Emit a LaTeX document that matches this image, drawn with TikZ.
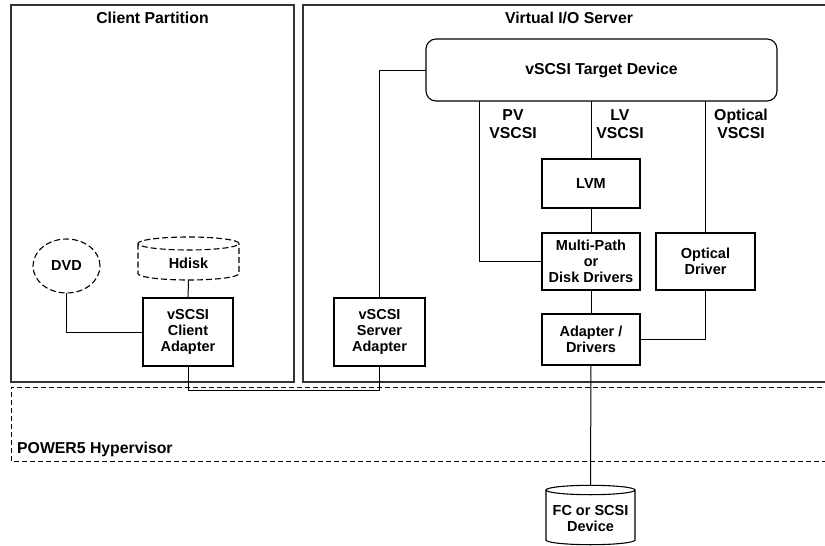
\documentclass[tikz,border=0pt]{standalone}
\usepackage{fontspec}
\setmainfont{Liberation Sans}
\usetikzlibrary{shapes.geometric}
\begin{document}
\begin{tikzpicture}[x=1pt,y=-1pt,
  big/.style={font=\fontsize{15.8}{18}\selectfont\bfseries},
  small/.style={font=\fontsize{14.5}{16}\selectfont\bfseries},
  part/.style={draw=black!80,line width=1.6pt},
  box/.style={draw,line width=1.1pt,inner sep=0pt,outer sep=0pt,align=center,small},
  conn/.style={line width=1pt},
  lbl/.style={big,align=center,inner sep=0pt}]
\useasboundingbox (0,0) rectangle (825,546);
\begin{scope}
\clip (0,0) rectangle (825,546);
% partitions
\draw[part] (11,5) rectangle (294,382);
\draw[part] (303,5) rectangle (830,382);
\draw[line width=1pt,dash pattern=on 5pt off 3pt] (830,387) -- (11,387) -- (11,461) -- (830,461);
\end{scope}
\node[big] (cpt) at (152.5,18) {Client Partition};
\node[big] (vst) at (569,18) {Virtual I/O Server};
\node[big,anchor=west,inner sep=0pt] (hvt) at (17,449) {POWER5 Hypervisor};

% VIOS
\node[box,big,rounded corners=10pt,minimum width=351pt,minimum height=62pt] (tgt) at (601.5,70) {vSCSI Target Device};
\node[box,minimum width=98pt,minimum height=49pt] (lvm) at (591,183.5) {LVM};
\node[box,minimum width=98pt,minimum height=57pt] (mp) at (591,261.5) {Multi-Path\\or\\Disk Drivers};
\node[box,minimum width=99pt,minimum height=57pt] (od) at (705.5,261.5) {Optical\\Driver};
\node[box,minimum width=98pt,minimum height=51pt] (ad) at (591,339.5) {Adapter /\\Drivers};
\node[box,minimum width=91pt,minimum height=68pt] (sa) at (379.5,332) {vSCSI\\Server\\Adapter};
\node[lbl] (pvl) at (513,124) {PV\\VSCSI};
\node[lbl] (lvl) at (620,124) {LV\\VSCSI};
\node[lbl] (opl) at (741,124) {Optical\\VSCSI};

% client
\node[box,minimum width=90pt,minimum height=68pt] (ca) at (188,332) {vSCSI\\Client\\Adapter};
\node[box,ellipse,dash pattern=on 6pt off 3pt,minimum width=67pt,minimum height=54pt] (dvd) at (66.5,266) {DVD};
\node[small,inner sep=0pt,minimum width=101pt,minimum height=43pt] (hd) at (188.5,258.5) {};
\node[small] at (188.5,263) {Hdisk};
\draw[line width=1.1pt,dash pattern=on 6pt off 3pt]
  (188.5,243.5) ellipse[x radius=50.5pt,y radius=6.5pt]
  (138,243.5) -- (138,273.5) arc[start angle=180,end angle=360,x radius=50.5pt,y radius=6.5pt] -- (239,243.5);

% FC device
\node[small,inner sep=0pt,minimum width=89pt,minimum height=60pt] (fc) at (590.5,515) {};
\node[small,align=center] at (590.5,519) {FC or SCSI\\Device};
\draw[line width=1.1pt]
  (590.5,490) ellipse[x radius=44.5pt,y radius=4.7pt]
  (546,490) -- (546,540) arc[start angle=180,end angle=360,x radius=44.5pt,y radius=4.7pt] -- (635,490);

% connectors
\coordinate (pvx) at (479,0);
\coordinate (hvy) at (0,390);
\draw[conn] (tgt.west) -| (sa.north);
\draw[conn] (tgt.south -| pvx) |- (mp.west);
\draw[conn] (tgt.south -| lvm.north) -- (lvm.north);
\draw[conn] (tgt.south -| od.north) -- (od.north);
\draw[conn] (lvm.south) -- (mp.north);
\draw[conn] (mp.south) -- (ad.north);
\draw[conn] (od.south) |- (ad.east);
\draw[conn] (ad.south) -- (fc.north);
\draw[conn] (sa.south) -- (sa.south |- hvy) -| (ca.south);
\draw[conn] (hd.south) -- (ca.north);
\draw[conn] (dvd.south) |- (ca.west);
\end{tikzpicture}
\end{document}
